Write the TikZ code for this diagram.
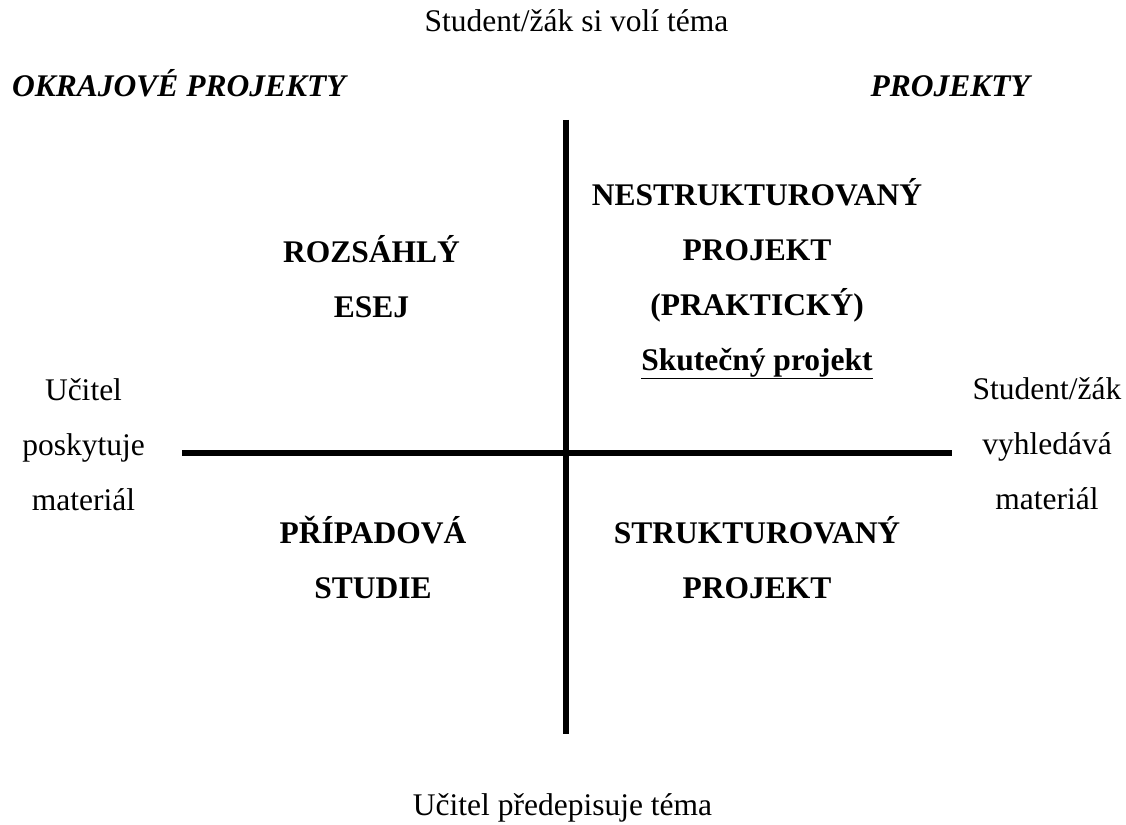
\documentclass[tikz,border=0pt]{standalone}
\usepackage{fontspec}
\setmainfont{Liberation Serif}[BoldFont={Liberation Serif Bold},ItalicFont={Liberation Serif Italic},BoldItalicFont={Liberation Serif Bold Italic}]
\begin{document}
\begin{tikzpicture}[x=1pt,y=-1pt,
  txt/.style={inner sep=0pt,anchor=base,align=center,font=\fontsize{31.5}{55}\selectfont},
  btxt/.style={txt,font=\fontsize{31.5}{55}\selectfont\bfseries},
  itxt/.style={txt,font=\fontsize{31.5}{55}\selectfont\bfseries\itshape},
  axis/.style={line width=6pt}]
\useasboundingbox (0,0) rectangle (1126,824);
\node[txt] (top) at (576.5,32) {Student/žák si volí téma};
\node[txt] (bottom) at (562.5,815) {Učitel předepisuje téma};
\node[itxt,anchor=base west] (okraj) at (12,97) {OKRAJOVÉ PROJEKTY};
\node[itxt,anchor=base east] (proj) at (1030,97) {PROJEKTY};
\coordinate (vt) at (566,120);
\coordinate (vb) at (566,734);
\coordinate (hl) at (182,453);
\coordinate (hr) at (952,453);
\draw[axis] (vt) -- (vb);
\draw[axis] (hl) -- (hr);
\node[btxt] (esej) at (371.5,317) {ROZSÁHLÝ\\ESEJ};
\node[btxt] (nestr) at (757,370) {NESTRUKTUROVANÝ\\PROJEKT\\(PRAKTICKÝ)\\\underline{Skutečný projekt}};
\node[txt] (ucitel) at (83.5,510) {Učitel\\poskytuje\\materiál};
\node[txt] (student) at (1047,509) {Student/žák\\vyhledává\\materiál};
\node[btxt] (pripad) at (373,598) {PŘÍPADOVÁ\\STUDIE};
\node[btxt] (strukt) at (757,598) {STRUKTUROVANÝ\\PROJEKT};
\end{tikzpicture}
\end{document}
